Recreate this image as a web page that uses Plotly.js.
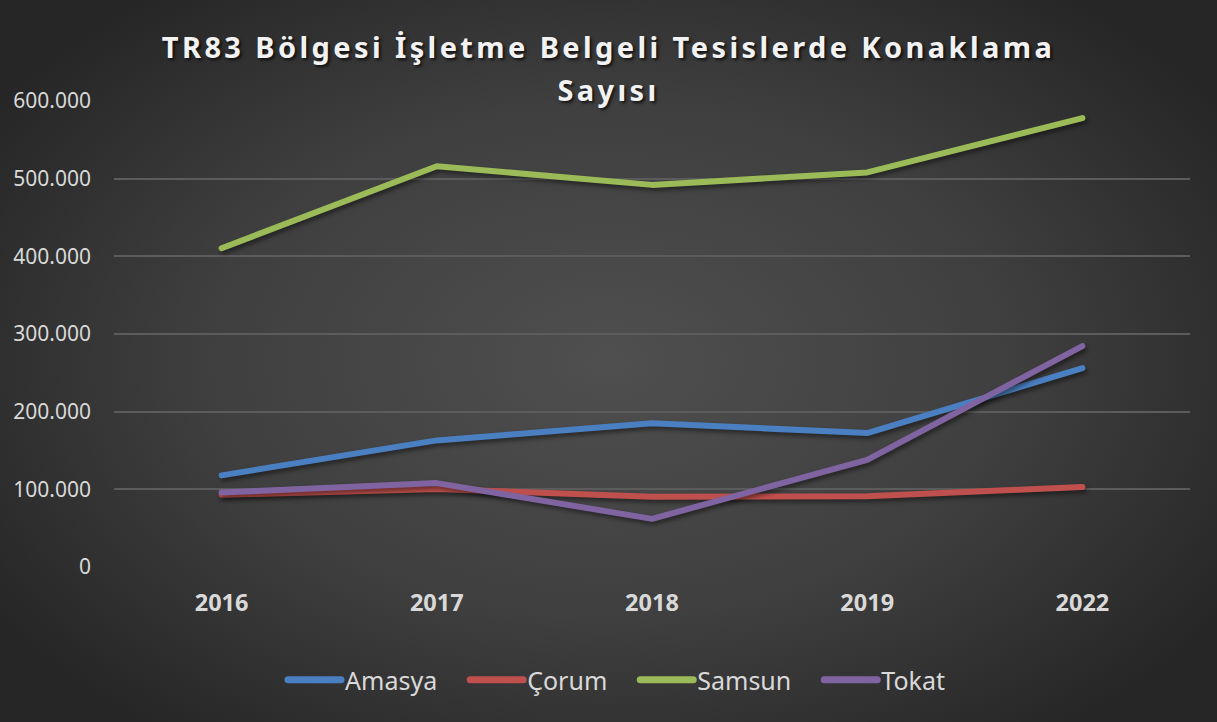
<!DOCTYPE html>
<html>
<head>
<meta charset="utf-8">
<script src="https://cdn.plot.ly/plotly-3.0.1.min.js"></script>
<style>
  html, body { margin: 0; padding: 0; }
  body {
    width: 1217px; height: 722px; overflow: hidden;
    background: radial-gradient(ellipse 60% 65% at 50% 50%, #4f4f4f 0%, #3f3f3f 55%, #262626 100%);
  }
  #chart { width: 1217px; height: 722px; }
  .gtitle { letter-spacing: 3.4px; }
  .scatterlayer .js-line, .legend .js-line {
    stroke-linecap: round; stroke-linejoin: round;
  }
  .scatterlayer .trace { filter: drop-shadow(2px 3px 2px rgba(0,0,0,0.45)); }
</style>
</head>
<body>
<div id="chart"></div>
<script>
const years = ['2016', '2017', '2018', '2019', '2022'];
const amasya = [118000, 163000, 185000, 172500, 256000];
const corum  = [93000, 100500, 90500, 91000, 103000];
const samsun = [410500, 516000, 492000, 508000, 578000];
const tokat  = [96000, 108000, 62000, 138000, 284500];

const seriesNames = ['Amasya', 'Çorum', 'Samsun', 'Tokat'];
const seriesValues = [amasya, corum, samsun, tokat];
const seriesColors = ['#4a7fc1', '#c0504d', '#9bbb59', '#8064a2'];

const traces = seriesNames.map((name, i) => ({
  type: 'scatter',
  mode: 'lines',
  name: name,
  x: years,
  y: seriesValues[i],
  line: { color: seriesColors[i], width: 6 },
  hoverinfo: 'x+y+name'
}));

const layout = {
  width: 1217,
  height: 722,
  autosize: false,
  paper_bgcolor: 'rgba(0,0,0,0)',
  plot_bgcolor: 'rgba(0,0,0,0)',
  separators: ',.',
  margin: { l: 114, r: 27, t: 101, b: 155, autoexpand: false },
  title: {
    text: 'TR83 Bölgesi İşletme Belgeli Tesislerde Konaklama<br>Sayısı',
    font: { family: 'Noto Sans, Open Sans, sans-serif', size: 29, color: '#f2f2f2', weight: 700,
            shadow: '2px 2px 3px rgba(0,0,0,0.7)' },
    x: 0.5, xanchor: 'center',
    yref: 'container', y: 0.92, yanchor: 'top'
  },
  xaxis: {
    type: 'category',
    range: [-0.5, 4.5],
    showgrid: false,
    zeroline: false,
    showline: false,
    ticks: '',
    ticklabelstandoff: 19,
    tickfont: { family: 'Noto Sans, Open Sans, sans-serif', size: 23.5, color: '#d9d9d9', weight: 700 }
  },
  yaxis: {
    range: [0, 600000],
    tickvals: [0, 100000, 200000, 300000, 400000, 500000, 600000],
    tickformat: ',d',
    showgrid: true,
    gridcolor: '#5c5c5c',
    gridwidth: 1.5,
    zeroline: false,
    showline: false,
    ticks: '',
    ticklabelstandoff: 22,
    tickfont: { family: 'Noto Sans, Open Sans, sans-serif', size: 21, color: '#d9d9d9' }
  },
  showlegend: true,
  legend: {
    orientation: 'h',
    x: 0.461, xanchor: 'center',
    y: -0.2425, yanchor: 'middle',
    font: { family: 'Noto Sans, Open Sans, sans-serif', size: 25, color: '#d9d9d9' },
    itemwidth: 50,
    bgcolor: 'rgba(0,0,0,0)'
  }
};

Plotly.newPlot('chart', traces, layout, { displayModeBar: false }).then(gd => {
  const lines = document.querySelectorAll('.gtitle tspan.line');
  if (lines.length > 1) {
    for (let i = 1; i < lines.length; i++) lines[i].setAttribute('dy', '1.5em');
  }
  document.querySelectorAll('.legend .legendlines path').forEach(p => {
    p.setAttribute('d', 'M3,0h53');
    p.style.strokeWidth = '7px';
  });
  // widen the gaps between legend entries
  document.querySelectorAll('.legend [clip-path]').forEach(el => el.removeAttribute('clip-path'));
  const gap = 25, shift = -30;
  document.querySelectorAll('.legend .groups .traces').forEach((g, i) => {
    const t = g.getAttribute('transform') || '';
    const m = t.match(/translate\(\s*([-\d.]+)[ ,]+([-\d.]+)\s*\)/);
    if (m) {
      const nx = parseFloat(m[1]) + gap * i + shift;
      g.setAttribute('transform', 'translate(' + nx + ',' + m[2] + ')');
    }
  });
});
</script>
</body>
</html>
